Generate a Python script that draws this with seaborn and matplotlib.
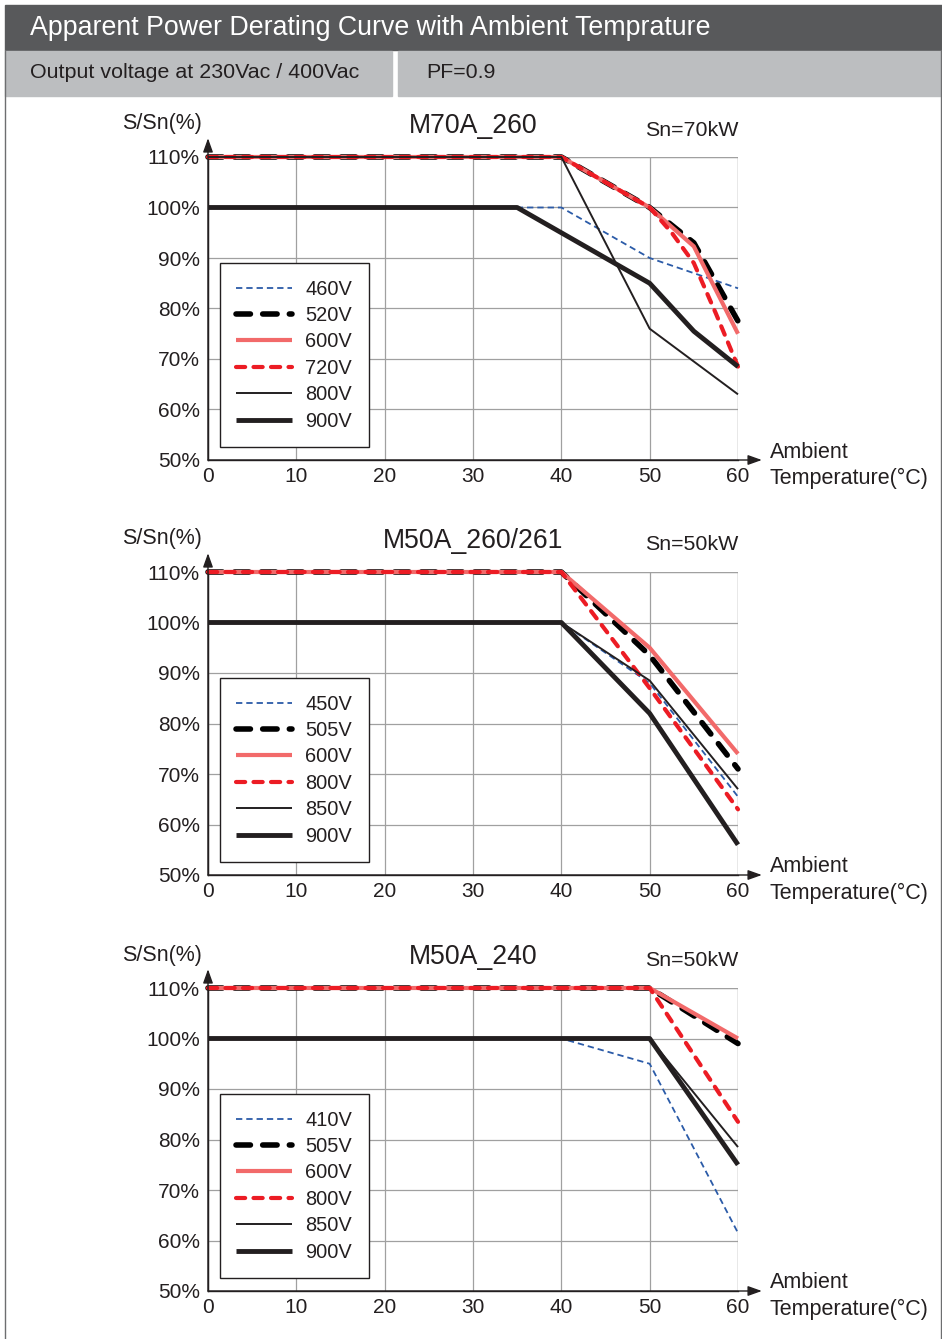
import matplotlib
matplotlib.use("Agg")
import matplotlib.pyplot as plt
from matplotlib.patches import Rectangle
import seaborn as sns

# ---- data ------------------------------------------------------------------
# chart 1: M70A_260
m70_labels = ["460V", "520V", "600V", "720V", "800V", "900V"]
m70_x = [
    [0, 40, 50, 60],
    [0, 40, 50, 55, 60],
    [0, 40, 50, 55, 60],
    [0, 40, 50, 52.5, 55, 57.5, 60],
    [0, 40, 50, 60],
    [0, 35, 50, 55, 60],
]
m70_y = [
    [100, 100, 90, 84],
    [110, 110, 100, 93, 77.5],
    [110, 110, 100, 92.3, 75],
    [110, 110, 100, 95, 89, 79, 68.5],
    [110, 110, 76, 63],
    [100, 100, 85, 75.5, 68.5],
]

# chart 2: M50A_260/261
m50a_labels = ["450V", "505V", "600V", "800V", "850V", "900V"]
m50a_x = [[0, 40, 50, 60]] * 6
m50a_y = [
    [100, 100, 88, 65.5],
    [110, 110, 93.5, 71],
    [110, 110, 95, 74],
    [110, 110, 87, 63],
    [100, 100, 88.5, 67],
    [100, 100, 82, 56],
]

# chart 3: M50A_240
m50b_labels = ["410V", "505V", "600V", "800V", "850V", "900V"]
m50b_x = [
    [0, 40, 50, 60],
    [0, 50, 60],
    [0, 50, 60],
    [0, 50, 60],
    [0, 50, 60],
    [0, 50, 60],
]
m50b_y = [
    [100, 100, 95, 61.5],
    [110, 110, 99],
    [110, 110, 100],
    [110, 110, 83.5],
    [100, 100, 78.5],
    [100, 100, 75],
]

titles = ["M70A_260", "M50A_260/261", "M50A_240"]
ratings = ["Sn=70kW", "Sn=50kW", "Sn=50kW"]
y_ticks = [50, 60, 70, 80, 90, 100, 110]
x_ticks = [0, 10, 20, 30, 40, 50, 60]

# line styles, same order for every chart
BLACK = "#231f20"
styles = [
    dict(color="#2b5ba8", lw=1.3, dashes=(3.5, 2.2), cap="butt"),
    dict(color="#000000", lw=4.0, dashes=(2.6, 2.2), cap="round"),
    dict(color="#f26a6a", lw=3.0, dashes=None, cap="butt"),
    dict(color="#ec1c24", lw=3.0, dashes=(2.2, 2.0), cap="round"),
    dict(color=BLACK, lw=1.4, dashes=None, cap="butt"),
    dict(color=BLACK, lw=3.5, dashes=None, cap="butt"),
]

W, H = 942, 1339


def fx(px):
    return px / W


def fy(py):
    return 1 - py / H


def main():
    sns.set_theme(style="white")
    plt.rcParams["font.family"] = ["Liberation Sans", "DejaVu Sans"]

    fig = plt.figure(figsize=(W / 100, H / 100), dpi=100)

    # header bands
    fig.patches.append(Rectangle((fx(5), fy(50)), fx(937), 45 / H,
                                 transform=fig.transFigure, color="#58595b"))
    fig.patches.append(Rectangle((fx(5), fy(96)), fx(387), 45 / H,
                                 transform=fig.transFigure, color="#bcbec0"))
    fig.patches.append(Rectangle((fx(398), fy(96)), fx(544), 45 / H,
                                 transform=fig.transFigure, color="#bcbec0"))
    fig.lines.append(plt.Line2D([fx(4.5), fx(4.5)], [fy(50), 0],
                                transform=fig.transFigure, color="#6d6e70", lw=1))
    fig.lines.append(plt.Line2D([fx(940.5), fx(940.5)], [fy(50), 0],
                                transform=fig.transFigure, color="#6d6e70", lw=1))
    fig.text(fx(30), fy(28), "Apparent Power Derating Curve with Ambient Temprature",
             color="white", fontsize=19.3, va="center", ha="left")
    fig.text(fx(30), fy(73), "Output voltage at 230Vac / 400Vac",
             color="#231f20", fontsize=15.4, va="center", ha="left")
    fig.text(fx(426), fy(73), "PF=0.9", color="#231f20", fontsize=15.4,
             va="center", ha="left")

    charts = [
        (m70_labels, m70_x, m70_y),
        (m50a_labels, m50a_x, m50a_y),
        (m50b_labels, m50b_x, m50b_y),
    ]
    offsets = [0, 415, 831]

    for i, (labels, xs, ys) in enumerate(charts):
        off = offsets[i]
        top_px = 157 + off
        bot_px = 460 + off
        ax = fig.add_axes([fx(208), fy(bot_px), fx(530), (bot_px - top_px) / H])

        for lab, x, y, st in zip(labels, xs, ys, styles):
            sns.lineplot(x=x, y=y, ax=ax, color=st["color"], lw=st["lw"],
                         label=lab, clip_on=False, zorder=3)
            line = ax.lines[-1]
            if st["dashes"] is not None:
                line.set_dashes(st["dashes"])
            line.set_dash_capstyle(st["cap"])
            line.set_solid_capstyle(st["cap"])

        ax.set_xlim(0, 60)
        ax.set_ylim(50, 110)
        ax.set_xticks(x_ticks)
        ax.set_yticks(y_ticks)
        ax.set_xticklabels([str(t) for t in x_ticks])
        ax.set_yticklabels([f"{t}%" for t in y_ticks])
        ax.tick_params(axis="both", length=0, labelsize=15, colors="#231f20")
        ax.tick_params(axis="y", pad=6)
        ax.tick_params(axis="x", pad=5)
        ax.set_xlabel("")
        ax.set_ylabel("")
        ax.grid(True, color="#a0a0a0", lw=0.9)
        ax.set_axisbelow(True)
        for s in ["top", "right"]:
            ax.spines[s].set_visible(False)
        for s in ["left", "bottom"]:
            ax.spines[s].set_color(BLACK)
            ax.spines[s].set_linewidth(1.0)
        # grid lines at the top and right edges
        ax.axhline(110, color="#a0a0a0", lw=0.9, zorder=1)
        ax.axvline(60, color="#a0a0a0", lw=0.9, zorder=1)

        # axis arrows
        arrow = dict(arrowstyle="-|>,head_length=0.7,head_width=0.25",
                     color=BLACK, lw=1.0, shrinkA=0, shrinkB=0)
        ax.annotate("", xy=(0, 1.062), xytext=(0, 0), xycoords="axes fraction",
                    arrowprops=arrow, annotation_clip=False)
        ax.annotate("", xy=(1.045, 0), xytext=(0, 0), xycoords="axes fraction",
                    arrowprops=arrow, annotation_clip=False)

        leg = ax.legend(loc="lower left", bbox_to_anchor=(12 / 530, 13 / 303),
                        borderaxespad=0, fontsize=14.4, handlelength=2.8,
                        handletextpad=0.65, labelspacing=0.37, borderpad=0.82,
                        fancybox=False, framealpha=1, edgecolor=BLACK)
        leg.get_frame().set_linewidth(1.0)
        for t in leg.get_texts():
            t.set_color(BLACK)

        # chart texts
        fig.text(fx(162), fy(124 + off), "S/Sn(%)", fontsize=15.5, ha="center",
                 va="center", color=BLACK)
        fig.text(fx(473), fy(126 + off), titles[i], fontsize=19.2, ha="center",
                 va="center", color=BLACK)
        fig.text(fx(692), fy(130 + off), ratings[i], fontsize=15.4, ha="center",
                 va="center", color=BLACK)
        fig.text(fx(770), fy(452 + off), "Ambient", fontsize=15.5, ha="left",
                 va="center", color=BLACK)
        fig.text(fx(770), fy(478 + off), "Temperature(°C)", fontsize=15.5,
                 ha="left", va="center", color=BLACK)

    fig.savefig("out.png", dpi=100)
    plt.close(fig)


if __name__ == "__main__":
    main()
